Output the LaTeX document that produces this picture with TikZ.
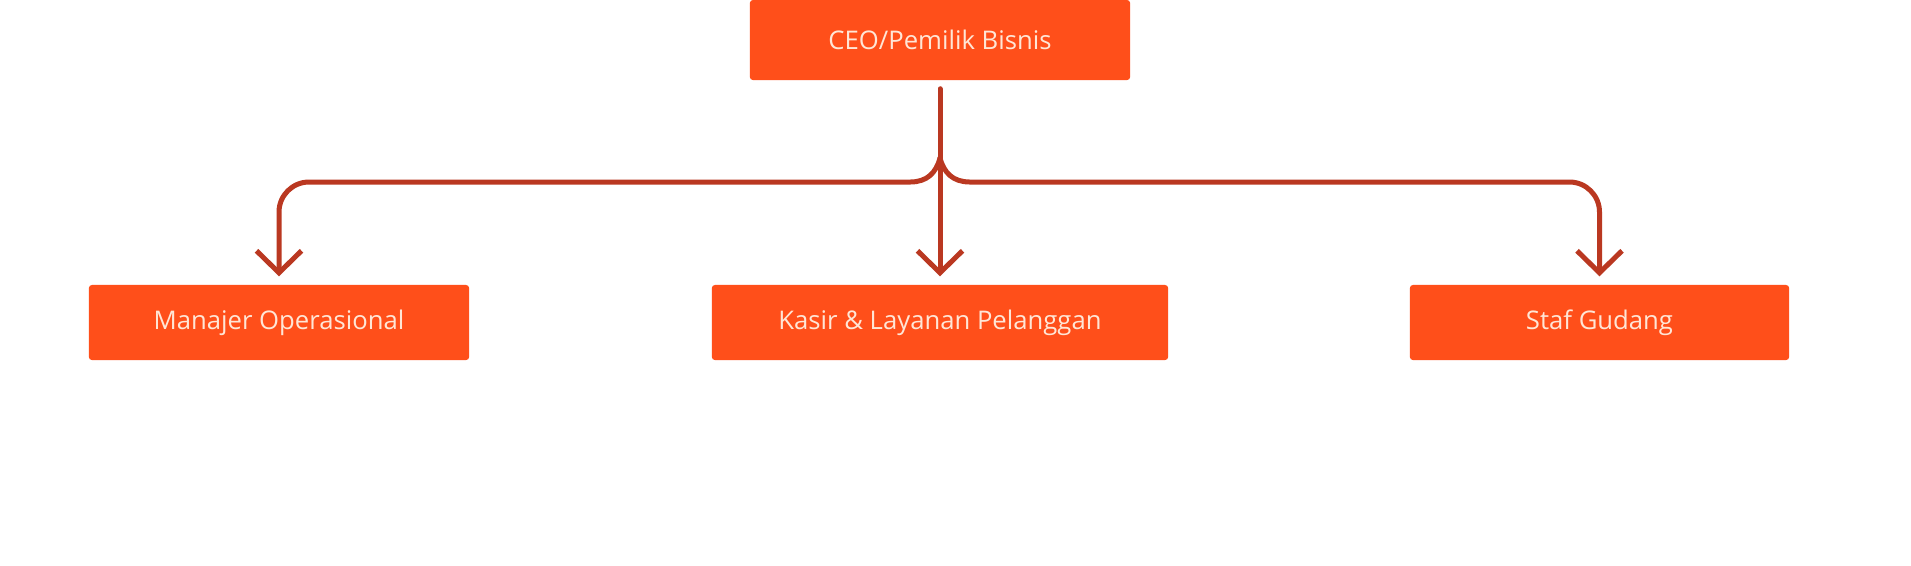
\documentclass[tikz,border=0pt]{standalone}
\usepackage{fontspec}
\setmainfont{Open Sans}
\usetikzlibrary{arrows.meta}

\definecolor{boxorange}{HTML}{FF4F1A}
\definecolor{linered}{HTML}{BA3821}
\definecolor{boxtext}{HTML}{FFE6D6}

\tikzset{
  unitbox/.style={fill=boxorange, rounded corners=0.03cm, text=boxtext,
    minimum height=0.75cm, inner sep=0pt, font=\fontsize{7.3}{9}\selectfont},
  branch/.style={draw=linered, line width=0.05cm, line cap=round,
    -{Straight Barb[length=0.22cm,width=0.45cm]}, shorten >=0.08cm}
}

\begin{document}
\begin{tikzpicture}[x=0.01cm,y=-0.01cm]
\path[fill=white] (0,0) rectangle (1911,560);

%-------------------------------------------- Boxes
\node[unitbox, minimum width=3.8cm, minimum height=0.8cm] (ceo) at (940,35) {CEO/Pemilik Bisnis};
\node[unitbox, minimum width=3.8cm] (manajer) at (279,317.5) {Manajer Operasional};   % left
\node[unitbox, minimum width=4.56cm] (kasir) at (940,317.5) {Kasir \& Layanan Pelanggan}; % middle
\node[unitbox, minimum width=3.79cm] (staf) at (1599.5,317.5) {Staf Gudang};          % right

%-------------------------------------------- Connectors
\coordinate (split) at (940,153);
\draw[branch, shorten <=0.08cm] (ceo.south) -- (kasir.north);  % stem
\draw[branch] (split) .. controls (936,168) and (927,177) .. (910,177)
    [rounded corners=0.3cm] -| (manajer.north);                % to the left
\draw[branch] (split) .. controls (944,168) and (953,177) .. (970,177)
    [rounded corners=0.3cm] -| (staf.north);                   % to the right

\end{tikzpicture}
\end{document}
